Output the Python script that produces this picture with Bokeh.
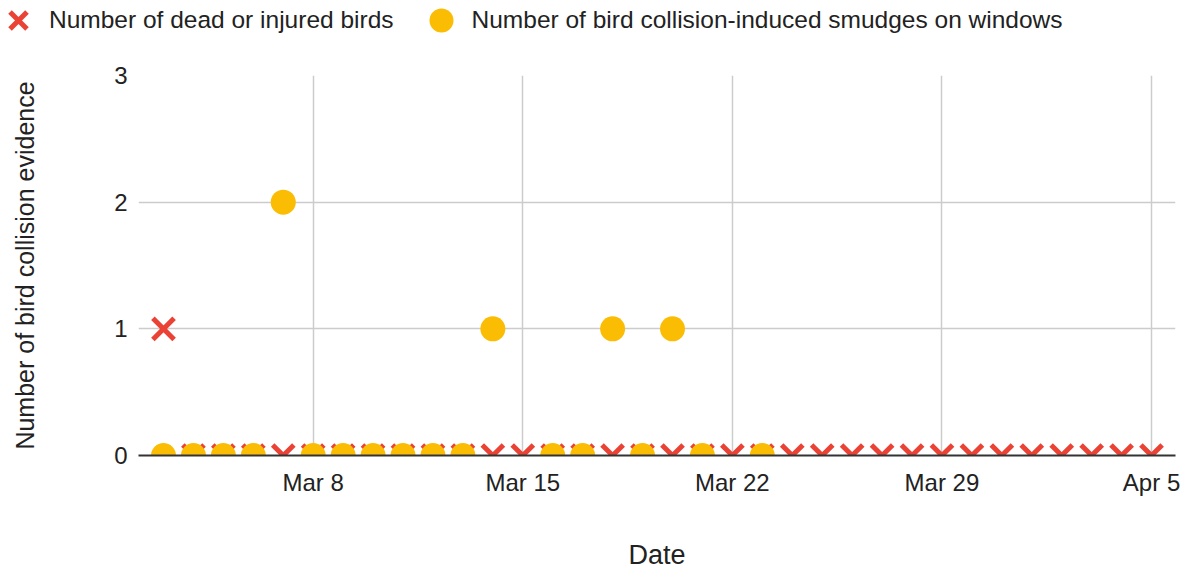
import numpy as np
import pandas as pd
from bokeh.plotting import figure
from bokeh.layouts import column
from bokeh.models import Range1d, FixedTicker, DatetimeTickFormatter, Legend, LegendItem, ColumnDataSource
from bokeh.embed import file_html
from bokeh.resources import INLINE

dates = pd.date_range("2021-03-03", "2021-04-05", freq="D")
birds = [1] + [0] * 33
smudges = [0, 0, 0, 0, 2, 0, 0, 0, 0, 0, 0, 1, np.nan, 0, 0, 1, 0, 1, 0, np.nan, 0] + [np.nan] * 13
tick_dates = ["2021-03-08", "2021-03-15", "2021-03-22", "2021-03-29", "2021-04-05"]
y_ticks = [0, 1, 2, 3]
series_names = ["Number of dead or injured birds",
                "Number of bird collision-induced smudges on windows"]

FONT = "Liberation Sans"
RED = "#ea4335"
YELLOW = "#fbbc04"
TXT = "#222222"
W = 1182
LEG_H = 44

src = ColumnDataSource(dict(d=dates, birds=birds, smudges=smudges))

day = pd.Timedelta(days=1)
x0 = dates[0] - 0.835 * day
x1 = dates[-1] + 0.8 * day

# ---- main chart ----
p = figure(width=W, height=572 - LEG_H, x_axis_type="datetime",
           x_range=Range1d(x0, x1), y_range=Range1d(0, 3),
           output_backend="svg", toolbar_location=None,
           min_border_left=138, min_border_right=7, min_border_top=75 - LEG_H, min_border_bottom=116)
p.outline_line_color = None
p.frame_align = False

x_style = dict(marker="x", size=30, line_width=5, color=RED)
c_style = dict(marker="circle", size=25, color=YELLOW, line_color=None)
p.scatter("d", "birds", source=src, **x_style)
p.scatter("d", "smudges", source=src, **c_style)

xt = [pd.Timestamp(t).value / 1e6 for t in tick_dates]
p.xaxis.ticker = FixedTicker(ticks=xt)
p.xaxis.formatter = DatetimeTickFormatter(days="%b %-d", months="%b %-d")
p.yaxis.ticker = FixedTicker(ticks=y_ticks)

for ax in (p.xaxis[0], p.yaxis[0]):
    ax.major_tick_line_color = None
    ax.minor_tick_line_color = None
    ax.major_tick_out = 0
    ax.major_tick_in = 0
    ax.minor_tick_out = 0
    ax.major_label_text_font = FONT
    ax.major_label_text_font_size = "24px"
    ax.major_label_text_color = TXT
    ax.axis_label_text_font = FONT
    ax.axis_label_text_font_style = "normal"
    ax.axis_label_text_color = TXT

p.xaxis.axis_line_color = "#333333"
p.xaxis.axis_line_width = 2
p.xaxis.major_label_standoff = 13
p.xaxis.axis_label = "Date"
p.xaxis.axis_label_text_font_size = "27px"
p.xaxis.axis_label_standoff = 41

p.yaxis.axis_line_color = None
p.yaxis.major_label_standoff = 11
p.yaxis.axis_label = "Number of bird collision evidence"
p.yaxis.axis_label_text_font_size = "25px"
p.yaxis.axis_label_standoff = 72

p.grid.grid_line_color = "#cccccc"
p.grid.grid_line_width = 1.5

# ---- legend strip (its glyph renderers lie outside its ranges; only the legend shows) ----
lf = figure(width=W, height=LEG_H, x_range=Range1d(0, 1), y_range=Range1d(10, 11),
            output_backend="svg", toolbar_location=None,
            x_axis_location=None, y_axis_location=None,
            min_border_left=0, min_border_right=0, min_border_top=0, min_border_bottom=0)
lf.outline_line_color = None
lf.grid.visible = False
lf.frame_align = False
lr1 = lf.scatter("d", "birds", source=src, **x_style)
lr2 = lf.scatter("d", "smudges", source=src, **c_style)

legend = Legend(items=[LegendItem(label=series_names[0], renderers=[lr1]),
                       LegendItem(label=series_names[1], renderers=[lr2])],
                orientation="horizontal", location=(-12, -6),
                label_text_font=FONT, label_text_font_size="24.5px", label_text_color=TXT,
                glyph_width=60, glyph_height=60, label_standoff=1, spacing=17,
                padding=0, margin=0,
                border_line_color=None, background_fill_alpha=0)
lf.add_layout(legend, "center")

layout = column(lf, p, spacing=0)
open("out.html", "w").write(file_html(layout, INLINE))
